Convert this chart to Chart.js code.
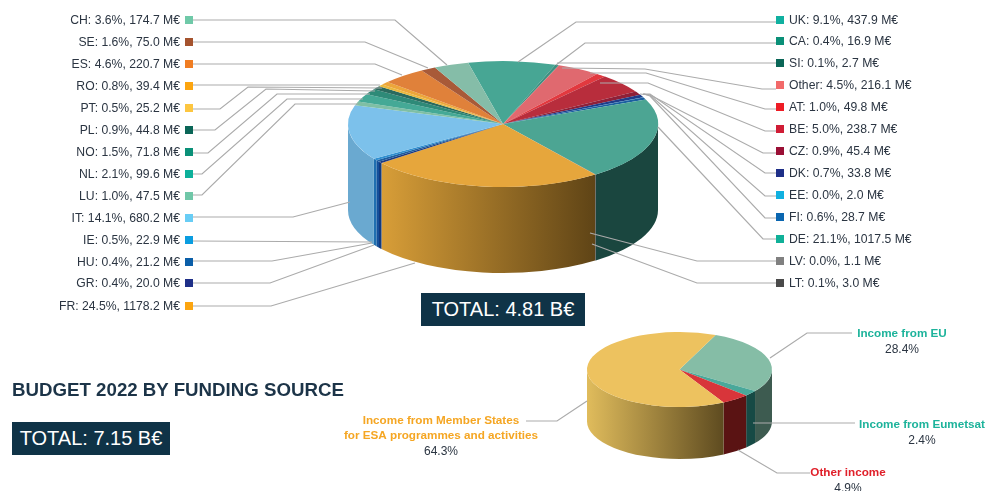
<!DOCTYPE html>
<html>
<head>
<meta charset="utf-8">
<script src="https://cdn.jsdelivr.net/npm/chart.js@4"></script>
<style>
  html, body { margin: 0; background: #fff; overflow: hidden; }
  #page { position: relative; width: 986px; height: 491px; font-family: "Liberation Sans", Arial, sans-serif; }
  canvas { position: absolute; left: 0; top: 0; }
  .total { position: absolute; background: #0f3347; color: #fff; font-size: 20px; line-height: 33px; height: 33px; text-align: center; }
  #title { position: absolute; left: 12px; top: 379px; font-size: 18.7px; font-weight: bold; color: #1c3448; white-space: nowrap; }
</style>
</head>
<body>
<div id="page">
  <canvas id="countryChart" width="986" height="491"></canvas>
  <canvas id="sourceChart" width="986" height="491"></canvas>
  <div class="total" style="left:421px;top:293px;width:164px">TOTAL: 4.81 B€</div>
  <div id="title">BUDGET 2022 BY FUNDING SOURCE</div>
  <div class="total" style="left:12px;top:422px;width:158px">TOTAL: 7.15 B€</div>
</div>
<script>
// Contributions by country, clockwise round the pie
const countries = ['UK', 'CA', 'SI', 'Other', 'AT', 'BE', 'CZ', 'DK', 'EE', 'FI', 'DE', 'LV', 'LT',
                   'FR', 'GR', 'HU', 'IE', 'IT', 'LU', 'NL', 'NO', 'PL', 'PT', 'RO', 'ES', 'SE', 'CH'];
const amounts = [437.9, 16.9, 2.7, 216.1, 49.8, 238.7, 45.4, 33.8, 2.0, 28.7, 1017.5, 1.1, 3.0,
                 1178.2, 20.0, 21.2, 22.9, 680.2, 47.5, 99.6, 71.8, 44.8, 25.2, 39.4, 220.7, 75.0, 174.7];
const shares = [9.1, 0.4, 0.1, 4.5, 1.0, 5.0, 0.9, 0.7, 0.0, 0.6, 21.1, 0.0, 0.1,
                24.5, 0.4, 0.4, 0.5, 14.1, 1.0, 2.1, 1.5, 0.9, 0.5, 0.8, 4.6, 1.6, 3.6];

const topColors = ['#47a694', '#3f8f80', '#2f6b60', '#e0696f', '#e2393f', '#b82d3c', '#8f2038', '#1f3d8a', '#2a9ad0', '#1a5fa0', '#4ca593', '#888888', '#555555',
                   '#e6a63c', '#1e3a80', '#1d5fa0', '#2f8fd0', '#7cc1eb', '#7fbfa5', '#45a996', '#2e8a78', '#2a6a5e', '#eab93f', '#eda63a', '#e0813a', '#a85a38', '#85bda8'];
const wallColors = ['#2a6a5e', '#2a6a5e', '#2a6a5e', '#8a3a3e', '#8a2025', '#6e1a24', '#5a1424', '#14265a', '#1a6a90', '#123f6a', '#1a463f', '#555555', '#333333',
                    ['#d89e38', '#5f4416'], '#123a80', '#14509a', '#1f6fb0', '#6aa9d0', '#5a8a75', '#2a6a5e', '#1f5a50', '#1a4a40', '#a88028', '#a87520', '#a05a25', '#703a25', '#5a8a75'];
const swatchColors = ['#10b0a0', '#0a9078', '#0a6657', '#f26a6a', '#ee1c25', '#d01c35', '#9a0f35', '#1e2f88', '#10b0e0', '#0a66b0', '#10b098', '#808080', '#4a4a4a',
                      '#fca510', '#1e2f88', '#0a5ea8', '#0a9de0', '#68cdf5', '#70c7a8', '#0db09a', '#0a9078', '#0a6657', '#fdc640', '#fca510', '#f07d22', '#a5532e', '#6fc9a8'];

// Funding sources
const sources = ['Income from EU', 'Income from Eumetsat', 'Other income', 'Income from Member States'];
const sourceShares = [28.4, 2.4, 4.9, 64.3];
const sourceTopColors = ['#85bda6', '#4aa89a', '#d8353a', '#edc25f'];
const sourceWallColors = ['#3d5b50', '#164a45', '#5a1313', ['#e0bc5c', '#5e4b20']];

// Legend rows, in the same order as countries
const rowY = [20, 41, 63, 85, 107, 129, 151, 173, 195, 217, 239, 261, 283,
              306, 283, 262, 240, 218, 196, 174, 152, 130, 108, 86, 64, 42, 20];

// Leader lines from the swatch to the slice
const leaders = [
  [[776, 22], [576, 22], [518, 62]],
  [[776, 43], [585, 43], [556, 65]],
  [[776, 63], [557, 63]],
  [[776, 89], [762, 89], [645, 69], [562, 68]],
  [[776, 109], [765, 109], [646, 73], [590, 73]],
  [[776, 131], [765, 131], [648, 83], [600, 83]],
  [[776, 153], [763, 153], [650, 95], [640, 94]],
  [[776, 173], [765, 173], [650, 94], [643, 94]],
  [[776, 196], [765, 196], [650, 95], [643, 94]],
  [[776, 218], [765, 218], [650, 96], [644, 94]],
  [[776, 239], [763, 239], [658, 127]],
  [[776, 261], [697, 261], [590, 233]],
  [[776, 283], [697, 283], [592, 244]],
  [[193, 306], [271, 306], [415, 263]],
  [[193, 283], [270, 283], [374, 245]],
  [[193, 261], [272, 261], [372, 243]],
  [[193, 241], [372, 242]],
  [[193, 217], [293, 217], [350, 202]],
  [[193, 195], [202, 195], [295, 104], [358, 104]],
  [[193, 174], [202, 174], [287, 99], [363, 99]],
  [[193, 153], [208, 153], [277, 94], [370, 94]],
  [[193, 130], [215, 130], [266, 89], [375, 91]],
  [[193, 109], [220, 109], [248, 87], [382, 88]],
  [[193, 85], [380, 85]],
  [[193, 64], [375, 64], [402, 75]],
  [[193, 42], [365, 42], [428, 68]],
  [[193, 20], [395, 20], [447, 65]]
];
const sourceLeaders = [
  [[852, 333], [807, 333], [770, 358]],
  [[855, 423], [753, 423]],
  [[810, 473], [777, 473], [738, 450]],
  [[526, 421], [557, 421], [587, 401]]
];

function drawLine(ctx, pts) {
  ctx.beginPath();
  pts.forEach(function (p, i) {
    if (i === 0) ctx.moveTo(p[0], p[1]);
    else ctx.lineTo(p[0], p[1]);
  });
  ctx.stroke();
}

// Tilts the pie: side walls first, then the arcs squashed into an ellipse
const tiltPlugin = {
  id: 'tilt',
  beforeDatasetsDraw(chart, args, opts) {
    const ctx = chart.ctx;
    const arcs = chart.getDatasetMeta(0).data;
    const cx = arcs[0].x;
    const R = arcs[0].outerRadius;
    const ry = R * opts.squash;
    ctx.save();
    arcs.forEach(function (arc, i) {
      [-2 * Math.PI, 0, 2 * Math.PI].forEach(function (shift) {
        const lo = Math.max(arc.startAngle + shift, 0);
        const hi = Math.min(arc.endAngle + shift, Math.PI);
        if (hi <= lo) return;
        let fill = opts.walls[i];
        if (Array.isArray(fill)) {
          const g = ctx.createLinearGradient(cx + R * Math.cos(hi), 0, cx + R * Math.cos(lo), 0);
          g.addColorStop(0, fill[0]);
          g.addColorStop(1, fill[1]);
          fill = g;
        }
        ctx.fillStyle = fill;
        ctx.beginPath();
        ctx.ellipse(cx, opts.centerY, R, ry, 0, lo, hi);
        ctx.ellipse(cx, opts.centerY + opts.depth, R, ry, 0, hi, lo, true);
        ctx.closePath();
        ctx.fill();
      });
    });
    ctx.restore();
    ctx.save();
    ctx.translate(0, opts.centerY);
    ctx.scale(1, opts.squash);
    ctx.translate(0, -arcs[0].y);
  },
  afterDatasetsDraw(chart) {
    chart.ctx.restore();
  }
};

// Legend rows and leader lines for the country pie
const countryLabels = {
  id: 'countryLabels',
  afterDraw(chart) {
    const ctx = chart.ctx;
    ctx.save();
    ctx.strokeStyle = '#ababab';
    ctx.lineWidth = 1.2;
    leaders.forEach(function (pts) { drawLine(ctx, pts); });
    ctx.font = '12.2px "Liberation Sans", Arial, sans-serif';
    ctx.textBaseline = 'middle';
    countries.forEach(function (code, i) {
      const onRight = i < 13;
      const text = code + ': ' + shares[i].toFixed(1) + '%, ' + amounts[i].toFixed(1) + ' M€';
      ctx.fillStyle = swatchColors[i];
      ctx.fillRect(onRight ? 776 : 185, rowY[i] - 4, 8, 8);
      ctx.fillStyle = '#2b3542';
      ctx.textAlign = onRight ? 'left' : 'right';
      ctx.fillText(text, onRight ? 789 : 180, rowY[i] + 0.5);
    });
    ctx.restore();
  }
};

// Callouts for the funding source pie
const sourceLabels = {
  id: 'sourceLabels',
  afterDraw(chart) {
    const ctx = chart.ctx;
    const boldFont = 'bold 11.7px "Liberation Sans", Arial, sans-serif';
    const plainFont = '12px "Liberation Sans", Arial, sans-serif';
    ctx.save();
    ctx.strokeStyle = '#ababab';
    ctx.lineWidth = 1.2;
    sourceLeaders.forEach(function (pts) { drawLine(ctx, pts); });
    ctx.textAlign = 'center';
    ctx.textBaseline = 'middle';

    function callout(x, y, lines, color, share) {
      ctx.font = boldFont;
      ctx.fillStyle = color;
      lines.forEach(function (line, i) { ctx.fillText(line, x, y + i * 15); });
      ctx.font = plainFont;
      ctx.fillStyle = '#2b3542';
      ctx.fillText(share.toFixed(1) + '%', x, y + lines.length * 15.5);
    }
    callout(902, 334, [sources[0]], '#1db39b', sourceShares[0]);
    callout(922, 425, [sources[1]], '#1db39b', sourceShares[1]);
    callout(848, 473, [sources[2]], '#e0202a', sourceShares[2]);
    callout(441, 421, [sources[3], 'for ESA programmes and activities'], '#f5a623', sourceShares[3]);
    ctx.restore();
  }
};

new Chart(document.getElementById('countryChart'), {
  type: 'pie',
  data: {
    labels: countries,
    datasets: [{ data: amounts, backgroundColor: topColors, borderWidth: 0, hoverOffset: 0 }]
  },
  options: {
    responsive: false,
    animation: false,
    rotation: -13,
    layout: { padding: { left: 348, right: 328, top: 0, bottom: 181 } },
    plugins: {
      legend: { display: false },
      tooltip: { enabled: false },
      tilt: { centerY: 124, squash: 0.406, depth: 86, walls: wallColors }
    }
  },
  plugins: [tiltPlugin, countryLabels]
});

new Chart(document.getElementById('sourceChart'), {
  type: 'pie',
  data: {
    labels: sources,
    datasets: [{ data: sourceShares, backgroundColor: sourceTopColors, borderWidth: 0, hoverOffset: 0 }]
  },
  options: {
    responsive: false,
    animation: false,
    rotation: 23,
    layout: { padding: { left: 587, right: 214, top: 0, bottom: 306 } },
    plugins: {
      legend: { display: false },
      tooltip: { enabled: false },
      tilt: { centerY: 369.5, squash: 0.405, depth: 52, walls: sourceWallColors }
    }
  },
  plugins: [tiltPlugin, sourceLabels]
});
</script>
</body>
</html>
